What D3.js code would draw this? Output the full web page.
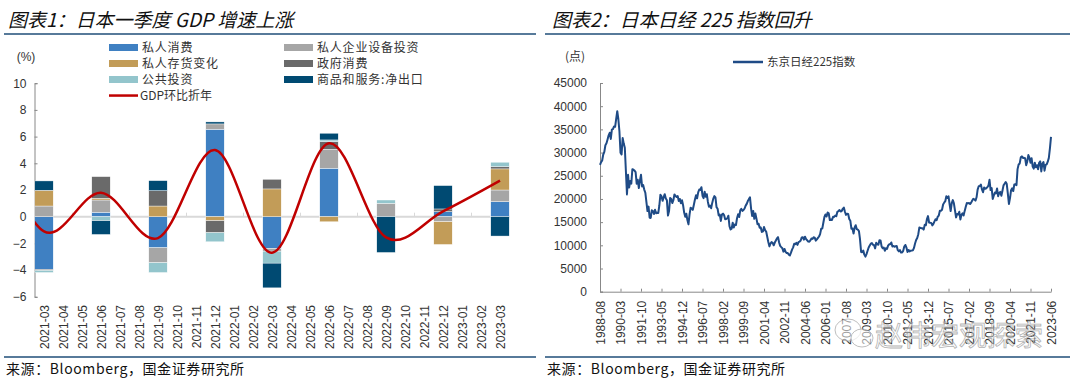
<!DOCTYPE html>
<meta charset="utf-8">
<style>
body { margin: 0; background: #fff; }
svg { display: block; }
.axis text { font-family: "Liberation Sans", Arial, sans-serif; font-size: 12px; fill: #333; }
.axis path, .axis line { stroke: #888; }
.cn { font-family: "Noto Sans CJK SC", sans-serif; }
</style>
<body>
<script src="https://d3js.org/d3.v7.min.js"></script>
<script>

// ---- left chart data: Japan GDP contribution (%), quarterly ----
var months = ["2021-03","2021-04","2021-05","2021-06","2021-07","2021-08","2021-09","2021-10",
  "2021-11","2021-12","2022-01","2022-02","2022-03","2022-04","2022-05","2022-06","2022-07",
  "2022-08","2022-09","2022-10","2022-11","2022-12","2023-01","2023-02","2023-03"];
var quarters = ["2021-03","2021-06","2021-09","2021-12","2022-03","2022-06","2022-09","2022-12","2023-03"];
var privCons   = [-3.95, 0.33, -2.33, 6.55, -2.38, 3.63, 0, 0.38, 1.13];
var privInvest = [0.8, 0.92, -1.12, 0.4, -0.2, 1.42, 1.0, -0.38, 0.87];
var inventory  = [1.18, 0.13, 0.8, -0.3, 2.08, -0.38, 0, -1.7, 1.58];
var govCons    = [-0.08, 1.62, 1.15, -0.9, 0.72, 0.58, 0, 0.2, 0.17];
var pubInvest  = [-0.15, -0.3, -0.73, -0.68, -0.9, 0.12, 0.25, 0, 0.33];
var netExport  = [0.7, -1.03, 0.75, 0.15, -1.85, 0.5, -2.68, 1.75, -1.45];
var gdpQuarters = ["2020-12"].concat(quarters);
var gdpSaar     = [6.5, -1.1, 1.8, -1.6, 5.0, -2.7, 5.5, -1.55, 0.4, 2.7];

var seriesNames = ["私人消费","私人企业设备投资","私人存货变化","政府消费","公共投资","商品和服务:净出口"];
var seriesColors = ["#3F80C2","#A6A6A6","#C29C58","#6A6A6A","#93C5CC","#004A72"];

// ---- right chart data: Nikkei 225, monthly from 1988-08 ----
var nikkeiStart = "1988-08";
var nikkei = [
  27366, 27924, 28300, 29579, 30159,
  31581, 31985, 32839, 33713, 34266, 32948, 34954, 35073, 35637, 35549, 37269, 38916,
  37189, 34592, 29980, 29584, 33131, 31940, 31036, 25978, 20984, 25194, 22455, 23849,
  23293, 26409, 26292, 26111, 25790, 23291, 24121, 22336, 23916, 25222, 22687, 22984,
  22023, 21339, 19346, 17391, 18348, 15952, 15910, 17555, 17399, 16767, 17684, 16925,
  17024, 16953, 18591, 20919, 20552, 19590, 20380, 21027, 20106, 19703, 16408, 17417,
  20229, 19997, 19112, 19725, 20974, 20644, 20449, 20629, 19564, 19990, 19076, 19723,
  18650, 17053, 16140, 16807, 15437, 14517, 16678, 18117, 17913, 17655, 18744, 19868,
  20813, 20125, 21407, 22041, 21956, 22531, 20693, 20167, 21556, 20467, 21020, 19361,
  18330, 18557, 18003, 19151, 20069, 20605, 20331, 18229, 17888, 16459, 16636, 15259,
  16628, 16831, 16527, 15641, 15671, 15830, 16379, 14108, 13406, 13564, 14883, 13842,
  14499, 14368, 15837, 16702, 16112, 17530, 17862, 17437, 17605, 17942, 18558, 18934,
  19540, 19960, 20337, 17974, 16332, 17411, 15727, 16861, 15747, 14539, 14649, 13786,
  13843, 12883, 12999, 13934, 13262, 12969, 11861, 10713, 9775, 10366, 10697, 10543,
  9997, 10588, 11025, 11493, 11764, 10622, 9877, 9619, 9383, 8640, 9216, 8579,
  8340, 8363, 7973, 7831, 8425, 9083, 9563, 10344, 10219, 10560, 10101, 10677,
  10784, 11042, 11715, 11762, 11236, 11858, 11326, 11082, 10824, 10771, 11069, 11489,
  11388, 11741, 11669, 11009, 11277, 11584, 11900, 12414, 13574, 13607, 14872, 16111,
  16650, 16205, 17060, 16906, 15467, 15505, 15457, 16141, 16128, 16399, 16274, 17226,
  17383, 17604, 17288, 17400, 17876, 18138, 17249, 16569, 16786, 16737, 15681, 15308,
  13592, 13603, 12526, 13850, 14339, 13481, 13377, 13073, 11260, 8577, 8512, 8860,
  7994, 7568, 8110, 8828, 9523, 9958, 10357, 10493, 10133, 10035, 9346, 10546,
  10198, 10126, 11090, 11057, 9769, 9383, 9537, 8824, 9369, 9202, 9937, 10229,
  10238, 10624, 9755, 9850, 9694, 9816, 9833, 8955, 8700, 8988, 8435, 8455,
  8803, 9723, 10084, 9521, 8543, 9007, 8695, 8840, 8870, 8928, 9446, 10395,
  11139, 11559, 12398, 13861, 13775, 13677, 13668, 13389, 14456, 14328, 15662, 16291,
  14915, 14841, 14828, 14304, 14632, 15162, 15621, 15425, 16174, 16414, 17460, 17451,
  17674, 18798, 19207, 19520, 20563, 20236, 20585, 18890, 17388, 19083, 19747, 19034,
  17518, 16027, 16759, 16666, 17235, 15576, 16569, 16887, 16450, 17425, 18308, 19114,
  19041, 19119, 18909, 19197, 19651, 20033, 19925, 19646, 20356, 22012, 22725, 22765,
  23098, 22068, 21454, 22468, 22202, 22305, 22554, 22865, 24120, 21920, 22351, 20015,
  20773, 21385, 21206, 22259, 20601, 21276, 21522, 20704, 21756, 22927, 23294, 23657,
  23205, 21143, 18917, 20194, 21878, 22288, 21710, 23140, 23185, 22977, 26434, 27444,
  27663, 28966, 29179, 28813, 28860, 28792, 27284, 28090, 29453, 28893, 27822, 28792,
  27002, 26527, 27821, 26848, 27280, 26393, 27802, 28092, 25937, 27587, 27969, 26095,
  27327, 27446, 28041, 28856, 30888, 33400
];
var nikkeiTicks = ["1988-08","1990-03","1991-10","1993-05","1994-12","1996-07","1998-02",
  "1999-09","2001-04","2002-11","2004-06","2006-01","2007-08","2009-03","2010-10","2012-05",
  "2013-12","2015-07","2017-02","2018-09","2020-04","2021-11","2023-06"];
var yTicksL = [-6, -4, -2, 0, 2, 4, 6, 8, 10];
var yTicksR = [0, 5000, 10000, 15000, 20000, 25000, 30000, 35000, 40000, 45000];

// month difference helper, "YYYY-MM" strings
function monthIdx(s, base) {
  var a = s.split("-").map(Number), b = base.split("-").map(Number);
  return (a[0] - b[0]) * 12 + (a[1] - b[1]);
}

var svg = d3.select("body").append("svg")
    .attr("width", 1080)
    .attr("height", 385);

// ---- frame: titles, rules, sources ----
var titleColor = "#1F4E79";
[{x: 8, x0: 4, x1: 536, t: "图表1：日本一季度 GDP 增速上涨"},
 {x: 552, x0: 545, x1: 1070, t: "图表2：日本日经 225 指数回升"}].forEach(function(p) {
  svg.append("text").attr("class", "cn")
      .attr("x", p.x).attr("y", 27)
      .style("font-size", "19px").style("font-style", "italic")
      .style("fill", "#111")
      .text(p.t);
  svg.append("line").attr("x1", p.x0).attr("x2", p.x1).attr("y1", 34).attr("y2", 34)
      .style("stroke", titleColor).style("stroke-width", 1.5);
  svg.append("line").attr("x1", p.x0).attr("x2", p.x1).attr("y1", 357).attr("y2", 357)
      .style("stroke", titleColor).style("stroke-width", 1.5);
  svg.append("text").attr("class", "cn")
      .attr("x", p.x0 + 2).attr("y", 374)
      .style("font-size", "14px").style("letter-spacing", "0.6px").style("fill", "#111")
      .text("来源：Bloomberg，国金证券研究所");
});

// ================= LEFT CHART =================
var xL = d3.scaleLinear().domain([-0.5, 24.5]).range([34.5, 509.5]);
var yL = d3.scaleLinear().domain([-6, 10]).range([296.8, 83.2]);
var bw = xL(1) - xL(0);

var gL = svg.append("g");

// y axis (ticks inside, like Excel)
gL.append("g")
    .attr("class", "axis")
    .attr("transform", "translate(" + xL(-0.5) + ",0)")
    .call(d3.axisLeft(yL).tickValues(yTicksL).tickSizeInner(-3).tickSizeOuter(-3).tickPadding(8));

gL.append("text")
    .attr("x", 26).attr("y", 61)
    .attr("text-anchor", "middle")
    .style("font-family", "Liberation Sans, Arial").style("font-size", "12px").style("fill", "#333")
    .text("(%)");

// zero line with small quarter ticks
gL.append("line")
    .attr("x1", xL(-0.5)).attr("x2", xL(24.5))
    .attr("y1", yL(0)).attr("y2", yL(0))
    .style("stroke", "#D9D9D9").style("stroke-width", 2);
gL.selectAll(".qtick")
    .data(d3.range(1.5, 24, 3))
  .enter().append("line")
    .attr("x1", function(d) { return xL(d); }).attr("x2", function(d) { return xL(d); })
    .attr("y1", yL(0)).attr("y2", yL(0) - 4)
    .style("stroke", "#D9D9D9").style("stroke-width", 1);

// month labels
var xAxisL = gL.append("g")
    .attr("class", "axis")
    .attr("transform", "translate(0,302)")
    .call(d3.axisBottom(xL).tickValues(d3.range(25)).tickSize(0)
      .tickFormat(function(i) { return months[i]; }));
xAxisL.select(".domain").remove();
xAxisL.selectAll("text")
    .attr("transform", "rotate(-90)")
    .attr("text-anchor", "end")
    .attr("x", -3).attr("y", 0).attr("dy", "0.35em");

// stacked bars
var table = quarters.map(function(q, i) {
  return {q: q, s0: privCons[i], s1: privInvest[i], s2: inventory[i],
          s3: govCons[i], s4: pubInvest[i], s5: netExport[i]};
});
var stack = d3.stack()
    .keys(["s0","s1","s2","s3","s4","s5"])
    .offset(d3.stackOffsetDiverging);
var layers = stack(table);

gL.selectAll(".layer")
    .data(layers)
  .enter().append("g")
    .style("fill", function(d, i) { return seriesColors[i]; })
  .selectAll("rect")
    .data(function(d) { return d; })
  .enter().append("rect")
    .attr("x", function(d) { return xL(monthIdx(d.data.q, months[0])) - bw / 2 + 0.3; })
    .attr("width", bw - 0.6)
    .attr("y", function(d) { return yL(Math.max(d[0], d[1])); })
    .attr("height", function(d) { return Math.abs(yL(d[0]) - yL(d[1])); })
    .style("stroke", "#fff").style("stroke-width", 0.4);

// GDP line (smoothed, clipped to plot area)
svg.append("clipPath").attr("id", "clipL")
  .append("rect").attr("x", xL(-0.5) + 0.5).attr("y", 60).attr("width", 480).attr("height", 260);

var gdpLine = d3.line()
    .curve(d3.curveCardinal.tension(0))
    .x(function(d, i) { return xL(monthIdx(gdpQuarters[i], months[0])); })
    .y(function(d) { return yL(d); });

gL.append("path")
    .datum(gdpSaar)
    .attr("clip-path", "url(#clipL)")
    .attr("d", gdpLine)
    .style("fill", "none").style("stroke", "#C00000").style("stroke-width", 2.5);

// legend
var legendItems = seriesNames.map(function(n, i) {
  return {name: n, color: seriesColors[i], col: i % 2, row: Math.floor(i / 2)};
});
legendItems.push({name: "GDP环比折年", color: "#C00000", col: 0, row: 3, line: true});
var lg = gL.selectAll(".lg")
    .data(legendItems)
  .enter().append("g")
    .attr("transform", function(d) {
      return "translate(" + (d.col ? 284 : 109) + "," + (47.5 + d.row * 16) + ")";
    });
lg.append("rect")
    .attr("x", 0).attr("width", 29)
    .attr("y", function(d) { return d.line ? -1.2 : -3.5; })
    .attr("height", function(d) { return d.line ? 2.5 : 7; })
    .style("fill", function(d) { return d.color; });
lg.append("text").attr("class", "cn")
    .attr("x", 33).attr("y", 0).attr("dy", "0.36em")
    .style("font-size", "12px").style("letter-spacing", "0.8px").style("fill", "#333")
    .text(function(d) { return d.name; });
lg.filter(function(d) { return d.line; }).select("text")
    .style("letter-spacing", "0px")
    .attr("x", 31);

// ================= RIGHT CHART =================
var xR = d3.scaleLinear().domain([0, nikkei.length - 1]).range([600, 1051]);
var yR = d3.scaleLinear().domain([0, 45000]).range([291.7, 83]);
var gR = svg.append("g");

gR.append("g")
    .attr("class", "axis")
    .attr("transform", "translate(600,0)")
    .call(d3.axisLeft(yR).tickValues(yTicksR).tickFormat(d3.format("d"))
      .tickSizeInner(-3).tickSizeOuter(-3).tickPadding(13));

var xAxisR = gR.append("g")
    .attr("class", "axis")
    .attr("transform", "translate(0," + yR(0) + ")")
    .call(d3.axisBottom(xR)
      .tickValues(nikkeiTicks.map(function(t) { return monthIdx(t, nikkeiStart); }))
      .tickFormat(function(i) { return nikkeiTicks[Math.round(i / 19)]; })
      .tickSizeInner(-3).tickSizeOuter(0));
xAxisR.selectAll("text")
    .attr("transform", "rotate(-90)")
    .attr("text-anchor", "end")
    .attr("x", -9).attr("y", 0).attr("dy", "0.35em");

gR.append("text").attr("class", "cn")
    .attr("x", 575).attr("y", 61).attr("text-anchor", "middle")
    .style("font-size", "12px").style("fill", "#333")
    .text("(点)");

var nkLine = d3.line()
    .x(function(d, i) { return xR(i); })
    .y(function(d) { return yR(d); });
gR.append("path")
    .datum(nikkei)
    .attr("d", nkLine)
    .style("fill", "none").style("stroke", "#1F4B86").style("stroke-width", 2)
    .style("stroke-linejoin", "round");

gR.append("line").attr("x1", 733).attr("x2", 763).attr("y1", 62).attr("y2", 62)
    .style("stroke", "#1F4B86").style("stroke-width", 2.5);
gR.append("text").attr("class", "cn")
    .attr("x", 767).attr("y", 62).attr("dy", "0.36em")
    .style("font-size", "11.5px").style("fill", "#333")
    .text("东京日经225指数");

// watermark
var wm = svg.append("g").style("opacity", 0.75);
wm.append("ellipse").attr("cx", 848).attr("cy", 330).attr("rx", 13).attr("ry", 11)
    .style("fill", "rgba(255,255,255,0.7)").style("stroke", "#aaa");
wm.append("ellipse").attr("cx", 862).attr("cy", 338).attr("rx", 11).attr("ry", 9)
    .style("fill", "rgba(255,255,255,0.7)").style("stroke", "#aaa");
wm.append("text").attr("class", "cn")
    .attr("x", 875).attr("y", 346)
    .style("font-size", "28px").style("fill", "rgba(255,255,255,0.55)")
    .style("stroke", "#999").style("stroke-width", 0.8)
    .text("赵伟宏观探索");

</script>
</body>
